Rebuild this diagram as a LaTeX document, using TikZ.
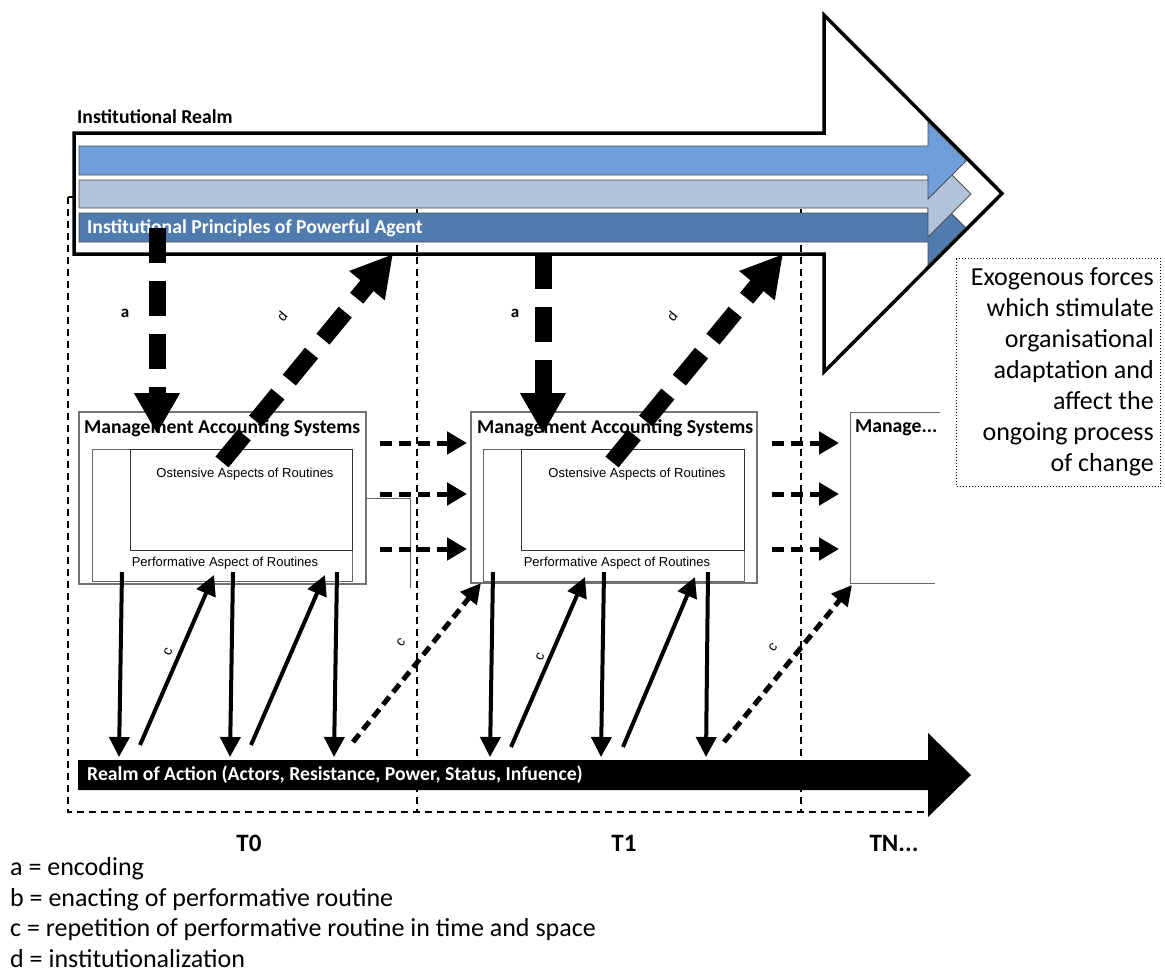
\documentclass[tikz,border=0pt]{standalone}
\usepackage{fontspec}
\setmainfont{Carlito}
\newfontfamily\arialfont{Liberation Sans}
\usetikzlibrary{arrows.meta}
\definecolor{barA}{RGB}{112,158,218}
\definecolor{barB}{RGB}{176,195,219}
\definecolor{barC}{RGB}{79,123,174}

\begin{document}
\begin{tikzpicture}[x=1pt,y=-1pt,line join=miter,
  outline/.style={draw=black,line width=3.5pt,fill=white},
  bar/.style={draw=black!70,line width=0.8pt},
  colline/.style={draw=black,line width=1.6pt,dash pattern=on 7pt off 5pt},
  masbox/.style={draw=black!55,line width=1.2pt,fill=white,inner sep=0pt,outer sep=0pt,anchor=north west},
  inbox/.style={draw=black!60,line width=1pt,inner sep=0pt,outer sep=0pt,anchor=north west},
  heavy/.style={line width=17pt,dash pattern=on 35pt off 18pt,-{Triangle[length=41pt,width=43pt]}},
  hflow/.style={line width=5pt,dash pattern=on 12pt off 7pt,-{Triangle[length=20pt,width=22pt]}},
  cflow/.style={line width=4pt,-{Triangle[length=20pt,width=20pt]}},
  cdash/.style={line width=5pt,dash pattern=on 10pt off 6pt,-{Triangle[length=20pt,width=20pt]}},
  boldlbl/.style={font=\bfseries\fontsize{19.7}{22}\selectfont,inner sep=0pt,anchor=west},
  smalltxt/.style={font=\arialfont\fontsize{13}{15}\selectfont,inner sep=0pt},
  tag/.style={font=\arialfont\fontsize{14}{16}\selectfont,inner sep=0pt},
  legend/.style={font=\fontsize{26}{30}\selectfont,inner sep=0pt,anchor=west},
  period/.style={font=\bfseries\fontsize{25}{28}\selectfont,inner sep=0pt}
]
\useasboundingbox (0,0) rectangle (1165,974);

% institutional realm: large outlined arrow
\path[outline] (74,133) -- (824,133) -- (824,15) -- (1002,193.5) -- (824,372) -- (824,254) -- (74,254) -- cycle;

% time periods
\draw[colline] (68,197) -- (928,197);
\draw[colline] (68,197) -- (68,812) -- (930,812);
\draw[colline] (417,197) -- (417,812);
\draw[colline] (801,197) -- (801,812);

% layered institutional bars
\path[bar,fill=barC] (79,213) -- (928,213) -- (928,190) -- (965.5,227.5) -- (928,265) -- (928,242) -- (79,242) -- cycle;
\path[bar,fill=barB] (79,180) -- (928,180) -- (928,151) -- (971,194) -- (928,237) -- (928,208) -- (79,208) -- cycle;
\path[bar,fill=barA] (79,146) -- (928,146) -- (928,122) -- (966.5,160.5) -- (928,199) -- (928,175) -- (79,175) -- cycle;

\node[boldlbl] (irealm) at (77,117) {Institutional Realm};
\node[boldlbl,text=white] (ipa) at (87,228) {Institutional Principles of Powerful Agent};

% realm of action
\path[fill=black] (78,760) -- (928,760) -- (928,733) -- (971,775) -- (928,817) -- (928,790) -- (78,790) -- cycle;
\node[boldlbl,text=white] (roa) at (87,775) {Realm of Action (Actors, Resistance, Power, Status, Infuence)};

% management accounting systems, T0
\node[masbox,minimum width=287pt,minimum height=172pt] (mas1) at (79,412) {};
\node[inbox,minimum width=260pt,minimum height=132pt] (in1) at (92,449) {};
\node[inbox,draw=black!80,minimum width=222pt,minimum height=101pt] (os1) at (130,449) {};
\node[boldlbl] (mt1) at (84,428) {Management Accounting Systems};
\node[smalltxt] (ot1) at (245,474) {Ostensive Aspects of Routines};
\node[smalltxt] (pt1) at (225,563) {Performative Aspect of Routines};
\draw[black!60,line width=1pt] (mas1.east |- 0,498) -- (410,498) -- (410,588);

% management accounting systems, T1
\node[masbox,minimum width=286pt,minimum height=171pt] (mas2) at (471,412) {};
\node[inbox,minimum width=261pt,minimum height=132pt] (in2) at (483,449) {};
\node[inbox,draw=black!80,minimum width=223pt,minimum height=101pt] (os2) at (521,449) {};
\node[boldlbl] (mt2) at (477,428) {Management Accounting Systems};
\node[smalltxt] (ot2) at (637,474) {Ostensive Aspects of Routines};
\node[smalltxt] (pt2) at (617,563) {Performative Aspect of Routines};

% management accounting systems, TN
\draw[black!60,line width=1pt] (940,412) -- (850,412) -- (850,583) -- (935,583);
\coordinate (mas3) at (850,412);
\node[boldlbl] (mt3) at (855,428) {Manage...};

% encoding (a) and institutionalization (d)
\coordinate (a1s) at (157,228);  \coordinate (a1e) at (157,434);
\coordinate (a2s) at (543,254);  \coordinate (a2e) at (543,434);
\coordinate (d1s) at (222,462);  \coordinate (d1e) at (393,254);
\coordinate (d2s) at (612,462);  \coordinate (d2e) at (783,254);
\draw[heavy] (a1s) -- (a1e);
\draw[heavy] (a2s) -- (a2e);
\draw[heavy] (d1s) -- (d1e);
\draw[heavy] (d2s) -- (d2e);
\node[font=\bfseries\fontsize{17}{19}\selectfont,inner sep=0pt] (la1) at (125,313) {a};
\node[font=\bfseries\fontsize{17}{19}\selectfont,inner sep=0pt] (la2) at (515,313) {a};
\node[tag,rotate=50] (ld1) at (282,316) {d};
\node[tag,rotate=50] (ld2) at (672,316) {d};

% carry-over between periods
\foreach \y [count=\i] in {443,494,549}{
  \coordinate (h1s\i) at (380,\y); \coordinate (h1e\i) at (467,\y);
  \coordinate (h2s\i) at (772,\y); \coordinate (h2e\i) at (839,\y);
  \draw[hflow] (h1s\i) -- (h1e\i);
  \draw[hflow] (h2s\i) -- (h2e\i);
}

% performing and repeating routines, T0
\coordinate (p1a) at (122,572); \coordinate (r1a) at (119,757);
\coordinate (r1b) at (140,745); \coordinate (p1b) at (214,575);
\coordinate (p1c) at (233,572); \coordinate (r1c) at (230,757);
\coordinate (r1d) at (251,745); \coordinate (p1d) at (325,575);
\coordinate (p1e) at (337,572); \coordinate (r1e) at (334,757);
\coordinate (r1f) at (353,742); \coordinate (p2x) at (481,583);
\draw[cflow] (p1a) -- (r1a);
\draw[cflow] (r1b) -- (p1b);
\draw[cflow] (p1c) -- (r1c);
\draw[cflow] (r1d) -- (p1d);
\draw[cflow] (p1e) -- (r1e);
\draw[cdash] (r1f) -- (p2x);

% performing and repeating routines, T1
\coordinate (p2a) at (493,572); \coordinate (r2a) at (490,757);
\coordinate (r2b) at (511,747); \coordinate (p2b) at (585,577);
\coordinate (p2c) at (604,572); \coordinate (r2c) at (601,757);
\coordinate (r2d) at (623,747); \coordinate (p2d) at (695,577);
\coordinate (p2e) at (708,572); \coordinate (r2e) at (706,757);
\coordinate (r2f) at (724,742); \coordinate (p3x) at (852,585);
\draw[cflow] (p2a) -- (r2a);
\draw[cflow] (r2b) -- (p2b);
\draw[cflow] (p2c) -- (r2c);
\draw[cflow] (r2d) -- (p2d);
\draw[cflow] (p2e) -- (r2e);
\draw[cdash] (r2f) -- (p3x);

\node[tag,rotate=67] (lc1) at (168,652) {c};
\node[tag,rotate=51] (lc2) at (401,642) {c};
\node[tag,rotate=67] (lc3) at (540,657) {c};
\node[tag,rotate=51] (lc4) at (773,647) {c};

% period labels
\node[period] (t0) at (249,843) {T0};
\node[period] (t1) at (624,843) {T1};
\node[period] (tn) at (894,843) {TN...};

% exogenous forces note
\node[draw,dotted,line width=1pt,minimum width=204pt,minimum height=228pt,inner sep=0pt,anchor=north west] (exo) at (956,258) {};
\node[font=\fontsize{26}{31}\selectfont,align=right,inner sep=0pt,anchor=east] (exot) at (1154,372)
  {Exogenous forces\\which stimulate\\organisational\\adaptation and\\affect the\\ongoing process\\of change};

% legend
\node[legend] (lg1) at (10,869) {a = encoding};
\node[legend] (lg2) at (10,900) {b = enacting of performative routine};
\node[legend] (lg3) at (10,930) {c = repetition of performative routine in time and space};
\node[legend] (lg4) at (10,959) {d = institutionalization};
\end{tikzpicture}
\end{document}
